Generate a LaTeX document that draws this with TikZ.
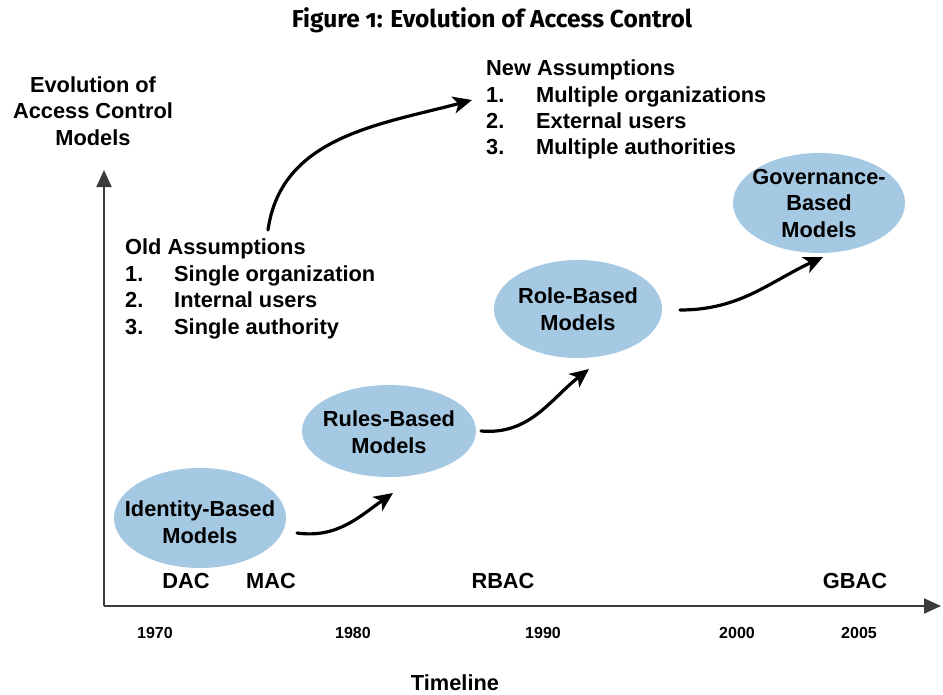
\documentclass[tikz,border=0pt]{standalone}
\usepackage{fontspec}
\setmainfont{Liberation Sans}
\newfontfamily\titlefont[Numbers=OldStyle]{Fira Sans}
\usetikzlibrary{arrows.meta,shapes.geometric}
\definecolor{ellblue}{RGB}{165,200,227}
\definecolor{axisgray}{RGB}{60,60,60}
\tikzset{
  model/.style={ellipse, fill=ellblue, draw=none, inner sep=0pt},
  modeltext/.style={align=center, inner sep=0pt, font=\fontsize{21.8}{26.5}\selectfont\bfseries},
  lbl/.style={font=\fontsize{21.8}{26.5}\selectfont\bfseries, inner sep=0pt},
  yearlbl/.style={font=\fontsize{16}{18}\selectfont\bfseries, inner sep=0pt, anchor=base},
  axis/.style={draw=axisgray, line width=2pt, -{Triangle[length=17pt,width=15pt]}},
  evo/.style={line width=3.2pt, -{Stealth[length=19pt,width=17pt,inset=5pt]}, line cap=round}
}
\begin{document}
\begin{tikzpicture}[x=1pt,y=-1pt]
\useasboundingbox (0,0) rectangle (943,694);
% title
\node[font=\titlefont\fontsize{24.5}{28}\selectfont\bfseries, inner sep=0pt, anchor=base] (title) at (492,27) {Figure 1: Evolution of Access Control};
% axes
\coordinate (origin) at (104,606);
\coordinate (ytip) at (104,170);
\coordinate (xtip) at (941,606);
\draw[axis] (origin) -- (ytip);
\draw[axis] (origin) -- (xtip);
% y axis label
\node[lbl, align=center, anchor=base] (ylab) at (93,145) {Evolution of\\Access Control\\Models};
% x axis label
\node[lbl, anchor=base] (xlab) at (455,690) {Timeline};
% ellipses
\node[model, minimum width=172pt, minimum height=100pt] (idm) at (200,518) {};
\node[model, minimum width=174pt, minimum height=92pt] (rules) at (389,431) {};
\node[model, minimum width=168pt, minimum height=98pt] (role) at (578,309) {};
\node[model, minimum width=172pt, minimum height=100pt] (gov) at (819,203) {};
\node[modeltext] (idmt) at (200,522) {Identity-Based\\Models};
\node[modeltext] (rulest) at (389,432) {Rules-Based\\Models};
\node[modeltext] (rolet) at (578,309) {Role-Based\\Models};
\node[modeltext] (govt) at (819,203) {Governance-\\Based\\Models};
% evolution arrows
\coordinate (a1s) at (297,533);
\coordinate (a1e) at (393,493);
\coordinate (a2s) at (481,431);
\coordinate (a2e) at (589,369);
\coordinate (a3s) at (680,310);
\coordinate (a3e) at (823,257);
\coordinate (bigs) at (268,230);
\coordinate (bige) at (472,100);
\draw[evo] (a1s) to[out=-8,in=215] (a1e);
\draw[evo] (a2s) to[out=-5,in=218] (a2e);
\draw[evo] (a3s) to[out=0,in=205] (a3e);
\draw[evo] (bigs) to[out=82,in=195] (bige);
% model abbreviations
\node[lbl, anchor=base] (dac) at (186,588) {DAC};
\node[lbl, anchor=base] (mac) at (271,588) {MAC};
\node[lbl, anchor=base] (rbac) at (503,588) {RBAC};
\node[lbl, anchor=base] (gbac) at (855,588) {GBAC};
% years
\node[yearlbl] (y1970) at (155,638) {1970};
\node[yearlbl] (y1980) at (353,638) {1980};
\node[yearlbl] (y1990) at (543,638) {1990};
\node[yearlbl] (y2000) at (737,638) {2000};
\node[yearlbl] (y2005) at (859,638) {2005};
% old assumptions
\node[lbl, anchor=base west] (oldh) at (125,254) {Old Assumptions};
\node[lbl, anchor=base west] (old1n) at (125,281) {1.};
\node[lbl, anchor=base west] (old1) at (174,281) {Single organization};
\node[lbl, anchor=base west] (old2n) at (125,307) {2.};
\node[lbl, anchor=base west] (old2) at (174,307) {Internal users};
\node[lbl, anchor=base west] (old3n) at (125,334) {3.};
\node[lbl, anchor=base west] (old3) at (174,334) {Single authority};
% new assumptions
\node[lbl, anchor=base west] (newh) at (486,75) {New Assumptions};
\node[lbl, anchor=base west] (new1n) at (486,102) {1.};
\node[lbl, anchor=base west] (new1) at (536,102) {Multiple organizations};
\node[lbl, anchor=base west] (new2n) at (486,128) {2.};
\node[lbl, anchor=base west] (new2) at (536,128) {External users};
\node[lbl, anchor=base west] (new3n) at (486,154) {3.};
\node[lbl, anchor=base west] (new3) at (536,154) {Multiple authorities};
\end{tikzpicture}
\end{document}
